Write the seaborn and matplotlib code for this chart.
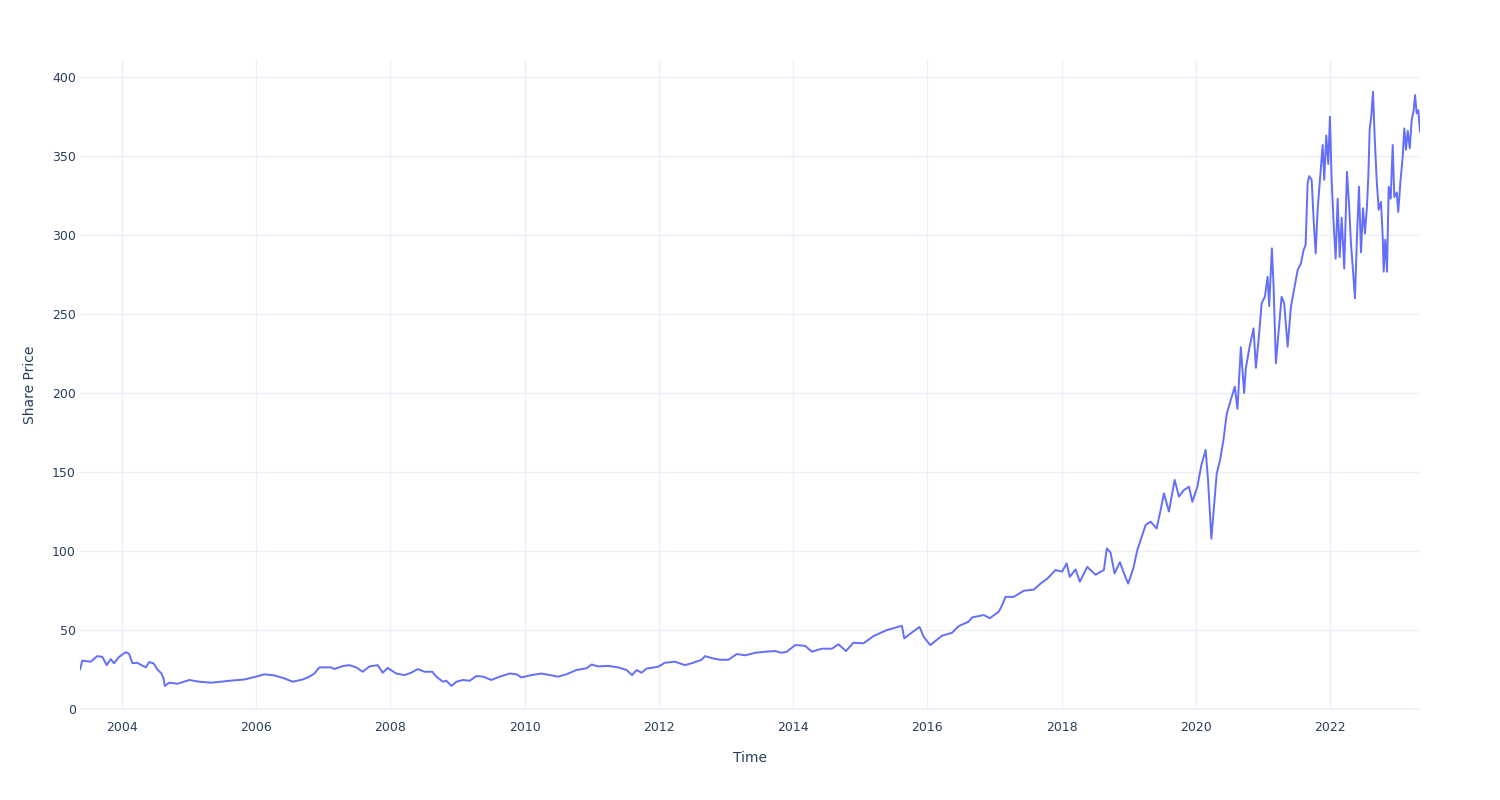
import numpy as np
import pandas as pd
import matplotlib
matplotlib.use("Agg")
import matplotlib.pyplot as plt
import seaborn as sns

# Decimal-year positions and share prices
years = [
    2003.373, 2003.407, 2003.533, 2003.631, 2003.706, 2003.772, 2003.831, 2003.881, 2003.955,
    2004.055, 2004.104, 2004.154, 2004.228, 2004.279, 2004.354, 2004.403, 2004.467, 2004.527,
    2004.587, 2004.616, 2004.637, 2004.701, 2004.825, 2005.000, 2005.149, 2005.324, 2005.473,
    2005.622, 2005.821, 2005.996, 2006.119, 2006.269, 2006.418, 2006.542, 2006.691, 2006.791,
    2006.866, 2006.940, 2007.115, 2007.164, 2007.288, 2007.388, 2007.488, 2007.587, 2007.687,
    2007.810, 2007.885, 2007.960, 2008.085, 2008.209, 2008.309, 2008.407, 2008.507, 2008.622,
    2008.682, 2008.781, 2008.831, 2008.906, 2008.981, 2009.079, 2009.179, 2009.279, 2009.378,
    2009.503, 2009.627, 2009.776, 2009.876, 2009.951, 2010.100, 2010.249, 2010.373, 2010.497,
    2010.622, 2010.772, 2010.921, 2010.996, 2011.094, 2011.243, 2011.393, 2011.518, 2011.601,
    2011.667, 2011.741, 2011.816, 2011.990, 2012.090, 2012.239, 2012.388, 2012.512, 2012.637,
    2012.687, 2012.811, 2012.910, 2013.034, 2013.160, 2013.284, 2013.433, 2013.582, 2013.731,
    2013.831, 2013.906, 2014.030, 2014.179, 2014.279, 2014.428, 2014.578, 2014.676, 2014.787,
    2014.900, 2015.049, 2015.199, 2015.399, 2015.622, 2015.657, 2015.772, 2015.885, 2015.945,
    2016.045, 2016.219, 2016.369, 2016.467, 2016.616, 2016.667, 2016.840, 2016.930, 2017.064,
    2017.115, 2017.164, 2017.288, 2017.437, 2017.586, 2017.687, 2017.787, 2017.910, 2018.010,
    2018.075, 2018.124, 2018.209, 2018.273, 2018.384, 2018.507, 2018.631, 2018.676, 2018.731,
    2018.791, 2018.870, 2018.930, 2018.993, 2019.070, 2019.130, 2019.254, 2019.328, 2019.418,
    2019.478, 2019.527, 2019.601, 2019.687, 2019.751, 2019.825, 2019.900, 2019.951, 2020.025,
    2020.085, 2020.149, 2020.184, 2020.234, 2020.273, 2020.313, 2020.363, 2020.413, 2020.463,
    2020.522, 2020.582, 2020.622, 2020.672, 2020.721, 2020.746, 2020.796, 2020.861, 2020.896,
    2020.945, 2020.981, 2021.030, 2021.070, 2021.094, 2021.134, 2021.160, 2021.194, 2021.228,
    2021.279, 2021.318, 2021.369, 2021.418, 2021.467, 2021.518, 2021.567, 2021.607, 2021.637,
    2021.667, 2021.691, 2021.727, 2021.757, 2021.787, 2021.816, 2021.851, 2021.891, 2021.915,
    2021.945, 2021.975, 2022.000, 2022.025, 2022.055, 2022.085, 2022.115, 2022.145, 2022.175,
    2022.213, 2022.254, 2022.284, 2022.313, 2022.343, 2022.373, 2022.403, 2022.433, 2022.463,
    2022.493, 2022.522, 2022.552, 2022.572, 2022.593, 2022.616, 2022.642, 2022.667, 2022.697,
    2022.727, 2022.761, 2022.787, 2022.801, 2022.825, 2022.851, 2022.876, 2022.906, 2022.936,
    2022.960, 2022.996, 2023.019, 2023.049, 2023.085, 2023.109, 2023.134, 2023.160, 2023.190,
    2023.219, 2023.249, 2023.269, 2023.294, 2023.318, 2023.343,
]
price = [
    25.0, 30.6, 30.0, 33.5, 33.0, 27.8, 31.6, 29.0, 33.0,
    36.0, 35.0, 29.0, 29.3, 28.0, 26.4, 29.7, 29.0, 25.0,
    22.5, 19.4, 14.6, 16.7, 16.0, 18.4, 17.3, 16.7, 17.3,
    18.0, 18.7, 20.5, 22.0, 21.3, 19.4, 17.3, 18.7, 20.5,
    22.5, 26.4, 26.4, 25.3, 27.2, 27.8, 26.4, 23.6, 27.0,
    27.8, 23.0, 26.0, 22.5, 21.5, 23.0, 25.3, 23.6, 23.6,
    20.5, 17.3, 17.9, 14.6, 17.3, 18.4, 17.9, 20.9, 20.5,
    18.4, 20.5, 22.5, 22.0, 20.0, 21.5, 22.5, 21.5, 20.5,
    22.0, 24.7, 25.8, 28.2, 27.0, 27.3, 26.4, 24.7, 21.5,
    24.7, 23.0, 25.6, 26.8, 29.3, 30.0, 27.8, 29.3, 31.2,
    33.5, 32.0, 31.2, 31.2, 34.8, 34.0, 35.6, 36.3, 36.7,
    35.6, 36.3, 40.5, 40.0, 36.3, 38.2, 38.2, 41.0, 36.7,
    42.0, 41.6, 46.2, 50.0, 52.7, 44.7, 48.5, 52.0, 45.8,
    40.5, 46.4, 48.3, 52.5, 55.3, 58.0, 59.5, 57.5, 61.6,
    65.8, 71.0, 71.0, 74.9, 75.6, 79.4, 82.5, 88.0, 87.0,
    92.2, 83.7, 88.4, 80.6, 90.0, 85.0, 88.0, 101.7, 99.0,
    85.8, 93.0, 86.0, 79.4, 89.0, 100.6, 116.5, 118.6, 114.3,
    126.0, 136.5, 125.0, 145.0, 134.5, 138.6, 140.7, 131.2, 140.7,
    154.4, 164.0, 145.0, 107.8, 127.8, 149.0, 157.6, 170.3, 187.0,
    195.6, 204.0, 190.0, 229.0, 200.0, 215.6, 228.0, 241.0, 216.0,
    237.8, 256.8, 261.0, 273.6, 255.0, 291.6, 267.0, 218.8, 235.6,
    261.0, 256.8, 229.3, 254.6, 266.0, 277.8, 282.0, 290.5, 293.7,
    332.7, 337.3, 335.0, 309.5, 288.4, 315.8, 335.0, 357.0, 335.0,
    363.0, 345.0, 374.9, 335.0, 307.4, 285.0, 323.0, 286.0, 311.0,
    278.9, 340.0, 320.0, 295.0, 278.0, 260.0, 299.0, 330.6, 289.0,
    317.0, 301.0, 318.0, 337.0, 367.5, 374.9, 390.7, 362.0, 335.0,
    316.0, 321.0, 299.0, 276.8, 297.0, 276.8, 330.6, 323.0, 357.0,
    324.0, 327.0, 314.6, 332.7, 349.6, 367.5, 354.0, 366.0, 355.0,
    372.8, 379.0, 388.6, 377.0, 379.0, 365.4,
]
y_ticks = [0, 50, 100, 150, 200, 250, 300, 350, 400]
x_tick_years = [2004, 2006, 2008, 2010, 2012, 2014, 2016, 2018, 2020, 2022]


def to_date(y):
    yi = int(np.floor(y))
    start = pd.Timestamp(year=yi, month=1, day=1)
    end = pd.Timestamp(year=yi + 1, month=1, day=1)
    return start + (end - start) * (y - yi)


df = pd.DataFrame({"Time": [to_date(v) for v in years], "Share Price": price})

sns.set_theme(style="white")
plt.rcParams["font.family"] = ["DejaVu Sans"]

TEXT = "#2a3f5f"
GRID = "#EBF0F8"
LINE = "#636EFA"

fig = plt.figure(figsize=(15, 8), dpi=100)
ax = fig.add_axes([80 / 1500, 1 - 710 / 800, 1340 / 1500, 650 / 800])

sns.lineplot(data=df, x="Time", y="Share Price", ax=ax, color=LINE,
             linewidth=1.4, estimator=None, sort=True)

ax.set_xlim(to_date(2003.373), to_date(2023.343))
ax.set_ylim(-0.6, 410.8)

ax.set_yticks(y_ticks)
ax.set_yticklabels([str(t) for t in y_ticks])
xt = [pd.Timestamp(year=y, month=1, day=1) for y in x_tick_years]
ax.set_xticks(xt)
ax.set_xticklabels([str(y) for y in x_tick_years])

ax.grid(True, color=GRID, linewidth=1)
ax.set_axisbelow(True)
ax.axhline(0, color=GRID, linewidth=2, zorder=0.5)
for s in ax.spines.values():
    s.set_visible(False)

ax.tick_params(axis="both", length=0, labelsize=9, labelcolor=TEXT)
ax.tick_params(axis="y", pad=3)
ax.tick_params(axis="x", pad=8)

ax.set_xlabel("Time", fontsize=10, color=TEXT, labelpad=12)
ax.set_ylabel("Share Price", fontsize=10, color=TEXT, labelpad=11)

fig.savefig("out.png", dpi=100, facecolor="white")
